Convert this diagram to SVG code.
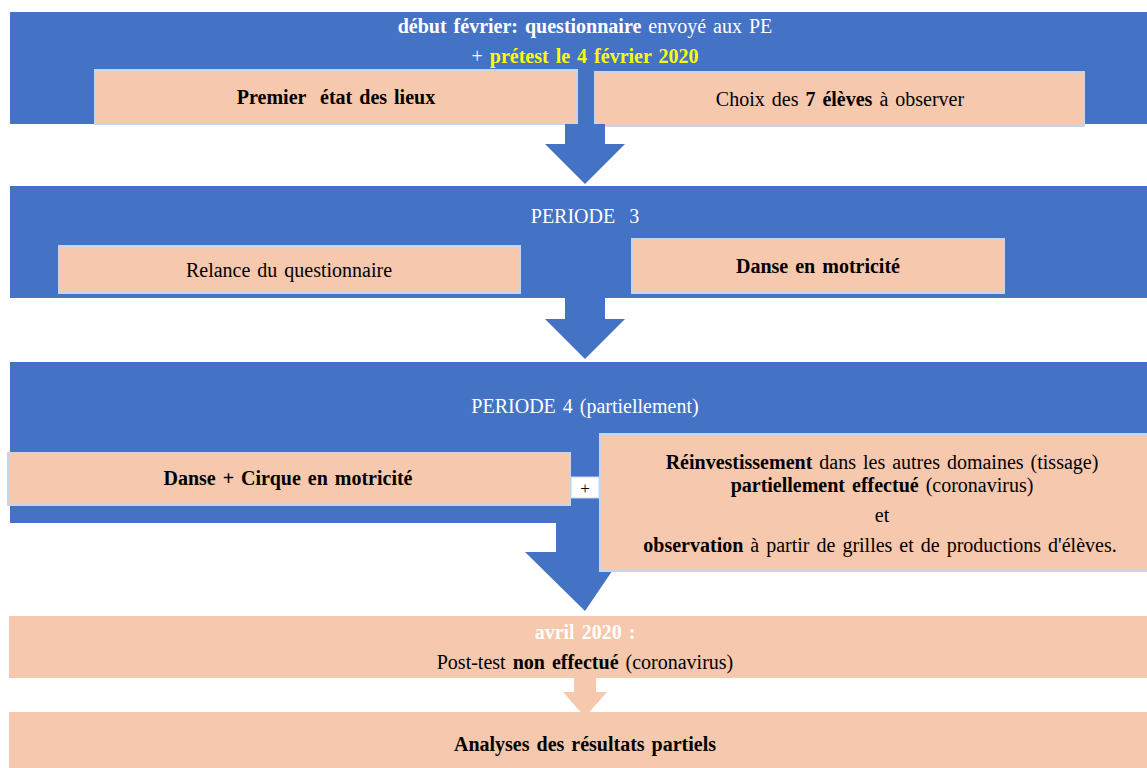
<svg xmlns="http://www.w3.org/2000/svg" width="1147" height="768" viewBox="0 0 1147 768">
<style>
text{font-family:"Liberation Serif","Times New Roman",serif;font-size:20px;word-spacing:2px;text-anchor:middle;fill:#000}
.w{fill:#fff}
.y{fill:#ffff00}
.b{font-weight:bold}
.band{fill:#4472c4}
.peach{fill:#f6c8ad}
.box{fill:#f6c8ad;stroke:#c9d3ea;stroke-width:2}
.arrow{fill:#4472c4}
.parrow{fill:#f6c8ad}
</style>
<rect width="1147" height="768" fill="#fff"/>
<g id="band1">
<rect class="band" x="10" y="12" width="1137" height="112"/>
<text x="585" y="33" class="w"><tspan class="b">début février: questionnaire</tspan> envoyé aux PE</text>
<text x="585" y="63" class="w">+ <tspan class="y b">prétest le 4 février 2020</tspan></text>
</g>
<g id="premier">
<rect class="box" x="95" y="70" width="482" height="54"/>
<text x="336" y="104" class="b" xml:space="preserve">Premier  état des lieux</text>
</g>
<g id="choix">
<rect class="box" x="595" y="72" width="489" height="54"/>
<text x="840" y="106">Choix des <tspan class="b">7 élèves</tspan> à observer</text>
</g>
<g id="band2">
<rect class="band" x="10" y="186" width="1137" height="112"/>
<text x="585" y="223" class="w" xml:space="preserve">PERIODE  3</text>
</g>
<g id="relance">
<rect class="box" x="59" y="246" width="461" height="47"/>
<text x="289" y="277">Relance du questionnaire</text>
</g>
<g id="danse">
<rect class="box" x="632" y="239" width="372" height="54"/>
<text x="818" y="273" class="b">Danse en motricité</text>
</g>
<g id="band3">
<rect class="band" x="10" y="362" width="1137" height="161"/>
<text x="585" y="413" class="w">PERIODE 4 (partiellement)</text>
</g>
<g id="connectors">
<polygon class="arrow" points="565,124 605,124 605,144 625,144 585,184 545,144 565,144"/>
<polygon class="arrow" points="565,298 605,298 605,319 625,319 585,359 545,319 565,319"/>
<polygon class="arrow" points="556,523 605,523 605,552 625,552 585,611 525,552 556,552"/>
<polygon class="parrow" points="574,678 596,678 596,692 607,692 585,717 563,692 574,692"/>
</g>
<g id="danse-cirque">
<rect class="box" x="8" y="453" width="562" height="52"/>
<text x="288" y="485" class="b">Danse + Cirque en motricité</text>
</g>
<g id="plus">
<rect x="571" y="477" width="28" height="21" fill="#fff" stroke="#c9d3ea" stroke-width="1"/>
<text x="585" y="494" style="font-size:17px">+</text>
</g>
<g id="reinvest">
<rect class="box" x="600" y="434" width="548" height="137"/>
<text x="882" y="469"><tspan class="b">Réinvestissement</tspan> dans les autres domaines (tissage)</text>
<text x="882" y="492"><tspan class="b">partiellement effectué</tspan> (coronavirus)</text>
<text x="882" y="522">et</text>
<text x="880" y="552"><tspan class="b">observation</tspan> à partir de grilles et de productions d'élèves.</text>
</g>
<g id="avril">
<rect class="peach" x="9" y="616" width="1138" height="62"/>
<text x="585" y="639" class="w b">avril 2020 :</text>
<text x="585" y="669">Post-test <tspan class="b">non effectué</tspan> (coronavirus)</text>
</g>
<g id="analyses">
<rect class="peach" x="9" y="712" width="1138" height="56"/>
<text x="585" y="751" class="b">Analyses des résultats partiels</text>
</g>
</svg>
